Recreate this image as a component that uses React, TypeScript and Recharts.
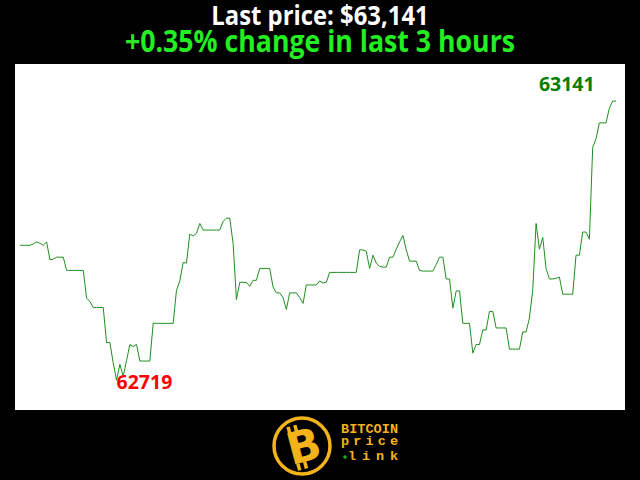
import { LineChart, Line, XAxis, YAxis } from 'recharts';

// one price per minute over the last 3 hours
const prices = [
  62923, 62923, 62923, 62923, 62925, 62928, 62926, 62923, 62928, 62901,
  62902, 62905, 62905, 62905, 62885, 62885, 62885, 62885, 62885, 62885,
  62843, 62838, 62829, 62829, 62829, 62829, 62776, 62776, 62745, 62719,
  62743, 62725, 62749, 62773, 62770, 62773, 62748, 62748, 62748, 62748,
  62805, 62805, 62805, 62805, 62805, 62805, 62805, 62855, 62869, 62897,
  62896, 62940, 62937, 62941, 62956, 62946, 62946, 62946, 62946, 62946,
  62946, 62959, 62964, 62964, 62926, 62841, 62867, 62867, 62867, 62861,
  62870, 62870, 62888, 62888, 62888, 62888, 62860, 62851, 62851, 62844,
  62826, 62851, 62851, 62851, 62844, 62835, 62863, 62863, 62863, 62863,
  62869, 62866, 62867, 62882, 62882, 62882, 62882, 62882, 62882, 62882,
  62882, 62882, 62916, 62916, 62914, 62888, 62908, 62896, 62891, 62890,
  62890, 62905, 62905, 62917, 62928, 62938, 62916, 62899, 62899, 62899,
  62885, 62884, 62884, 62884, 62884, 62894, 62905, 62905, 62872, 62872,
  62828, 62854, 62854, 62805, 62805, 62805, 62760, 62773, 62773, 62795,
  62795, 62823, 62823, 62798, 62798, 62798, 62798, 62766, 62766, 62766,
  62766, 62792, 62792, 62813, 62855, 62956, 62917, 62935, 62888, 62872,
  62872, 62873, 62875, 62849, 62849, 62849, 62849, 62908, 62908, 62943,
  62943, 62932, 63071, 63084, 63108, 63108, 63108, 63130, 63141, 63141,
];

const lastPrice = '$63,141';
const changeText = '+0.35% change in last 3 hours';
const yDomain = [62674, 63197];

const data = prices.map((p, i) => ({ i, price: p }));
const maxVal = Math.max(...prices);
const minVal = Math.min(...prices);
const maxIdx = prices.indexOf(maxVal);
const minIdx = prices.indexOf(minVal);

const font = '"Open Sans", sans-serif';
const gold = '#f2b31b';

const PriceLabel = (props: any) => {
  const { x, y, index } = props;
  if (index === maxIdx) {
    return (
      <text x={x - 18} y={y - 10} textAnchor="end" fill="#008000" fontSize={19.5} fontWeight="bold" fontFamily={font}>
        {maxVal}
      </text>
    );
  }
  if (index === minIdx) {
    return (
      <text x={x} y={y + 9} textAnchor="start" fill="#ff0000" fontSize={19.5} fontWeight="bold" fontFamily={font}>
        {minVal}
      </text>
    );
  }
  return null;
};

// titles, slightly condensed like the original
const Titles = () => (
  <svg width={640} height={64} style={{ position: 'absolute', left: 0, top: 0 }}>
    <text transform="translate(320 25) scale(0.9 1)" textAnchor="middle" fill="#fff" fontSize={26.5} fontWeight="bold" fontFamily={font}>
      Last price: {lastPrice}
    </text>
    <text transform="translate(320 52) scale(0.89 1)" textAnchor="middle" fill="#22ee22" fontSize={30} fontWeight="bold" fontFamily={font}>
      {changeText}
    </text>
  </svg>
);

const Logo = () => (
  <svg width={160} height={70} style={{ position: 'absolute', left: 260, top: 410 }}>
    <circle cx={42} cy={36} r={28} fill="#000" stroke={gold} strokeWidth={3.5} />
    <g transform="rotate(-15 42 37)" fill={gold}>
      <rect x={32} y={14} width={3.5} height={7} />
      <rect x={39} y={14} width={3.5} height={7} />
      <rect x={32} y={52} width={3.5} height={7} />
      <rect x={39} y={52} width={3.5} height={7} />
      <text x={44} y={52} textAnchor="middle" fontSize={44} fontWeight="bold" fontFamily='"DejaVu Sans", sans-serif'>
        B
      </text>
    </g>
    <g fill={gold} fontFamily='"Liberation Mono", monospace' fontWeight="bold" fontSize={13.5}>
      <text x={81} y={23} textLength={57} lengthAdjust="spacing">BITCOIN</text>
      <text x={81} y={35} textLength={57} lengthAdjust="spacing">price</text>
      <circle cx={85} cy={47} r={1.8} fill="#1faa1f" />
      <text x={88} y={50} textLength={50} lengthAdjust="spacing">link</text>
    </g>
  </svg>
);

export default function App() {
  return (
    <div style={{ position: 'absolute', left: 0, top: 0, width: 640, height: 480, background: '#000', overflow: 'hidden' }}>
      <Titles />
      <div style={{ position: 'absolute', left: 15, top: 64, width: 610, height: 346, background: '#fff' }}>
        <LineChart width={610} height={346} data={data} margin={{ top: 0, right: 0, bottom: 0, left: 0 }}>
          <XAxis dataKey="i" type="number" domain={[0, prices.length - 1]} padding={{ left: 5, right: 9 }} hide />
          <YAxis type="number" domain={yDomain} hide />
          <Line
            type="linear"
            dataKey="price"
            stroke="#1f8f1f"
            strokeWidth={1}
            dot={false}
            label={<PriceLabel />}
            isAnimationActive={false}
          />
        </LineChart>
      </div>
      <Logo />
    </div>
  );
}
